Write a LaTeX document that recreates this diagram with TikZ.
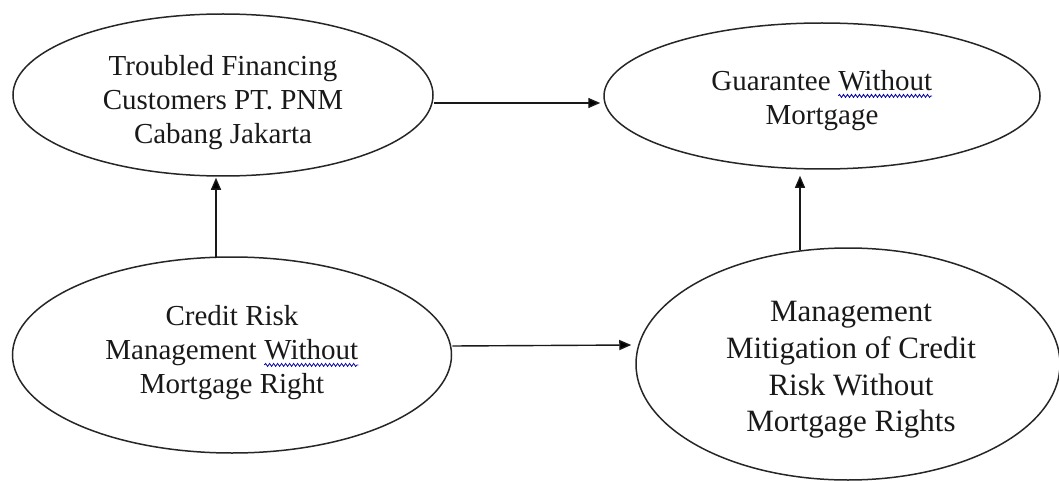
\documentclass[tikz,border=0pt]{standalone}
\usepackage{fontspec}
\setmainfont{Liberation Serif}
\usetikzlibrary{shapes.geometric,arrows.meta,decorations.pathmorphing}
\newcommand\bluewave[1]{\tikz[baseline=(w.base)]{\node[inner sep=0pt,outer sep=0pt,draw=none,shape=rectangle,minimum width=0pt,minimum height=0pt] (w) {#1};
  \draw[blue!65!black, line width=0.8pt, decorate, decoration={snake, amplitude=1.5pt, segment length=4pt}] ([yshift=-5pt]w.base west) -- ([yshift=-5pt]w.base east);}}
\tikzset{
  ell/.style={ellipse, draw=black!85, line width=1.5pt, inner sep=0pt},
  txt/.style={inner sep=0pt, align=center, font=\fontsize{29}{34}\selectfont, text=black!90},
  conn/.style={line width=1.4pt, draw=black!90, -{Triangle[length=12pt,width=10pt]}}
}
\begin{document}
\begin{tikzpicture}[x=1pt,y=-1pt]
\useasboundingbox (0,0) rectangle (1059,481);
\node[ell, minimum width=420pt, minimum height=162pt] (tf) at (223,95) {};
\node[txt] (tft) at (223,103) {Troubled Financing\\Customers PT. PNM\\Cabang Jakarta};
\node[ell, minimum width=436pt, minimum height=146pt] (gw) at (822,96) {};
\node[txt] (gwt) at (822,101) {Guarantee \bluewave{Without}\\Mortgage};
\node[ell, minimum width=439pt, minimum height=196pt] (cr) at (232,355) {};
\node[txt] (crt) at (232,353) {Credit Risk\\Management \bluewave{Without}\\Mortgage Right};
\node[ell, minimum width=424pt, minimum height=232pt] (mm) at (848,364) {};
\node[txt, font=\fontsize{31}{36.7}\selectfont] (mmt) at (851,370) {Management\\Mitigation of Credit\\Risk Without\\Mortgage Rights};
\draw[conn] ([yshift=-8pt]tf.east) -- ([xshift=-3pt,yshift=-7pt]gw.west);
\draw[conn] ([xshift=-16pt,yshift=-2pt]cr.north) -- ([xshift=-7pt,yshift=-1pt]tf.south);
\draw[conn] ([xshift=-48pt,yshift=-3pt]mm.north) -- ([xshift=-22pt,yshift=-6pt]gw.south);
\draw[conn] ([yshift=9pt]cr.east) -- ([xshift=-4pt,yshift=19pt]mm.west);
\end{tikzpicture}
\end{document}
